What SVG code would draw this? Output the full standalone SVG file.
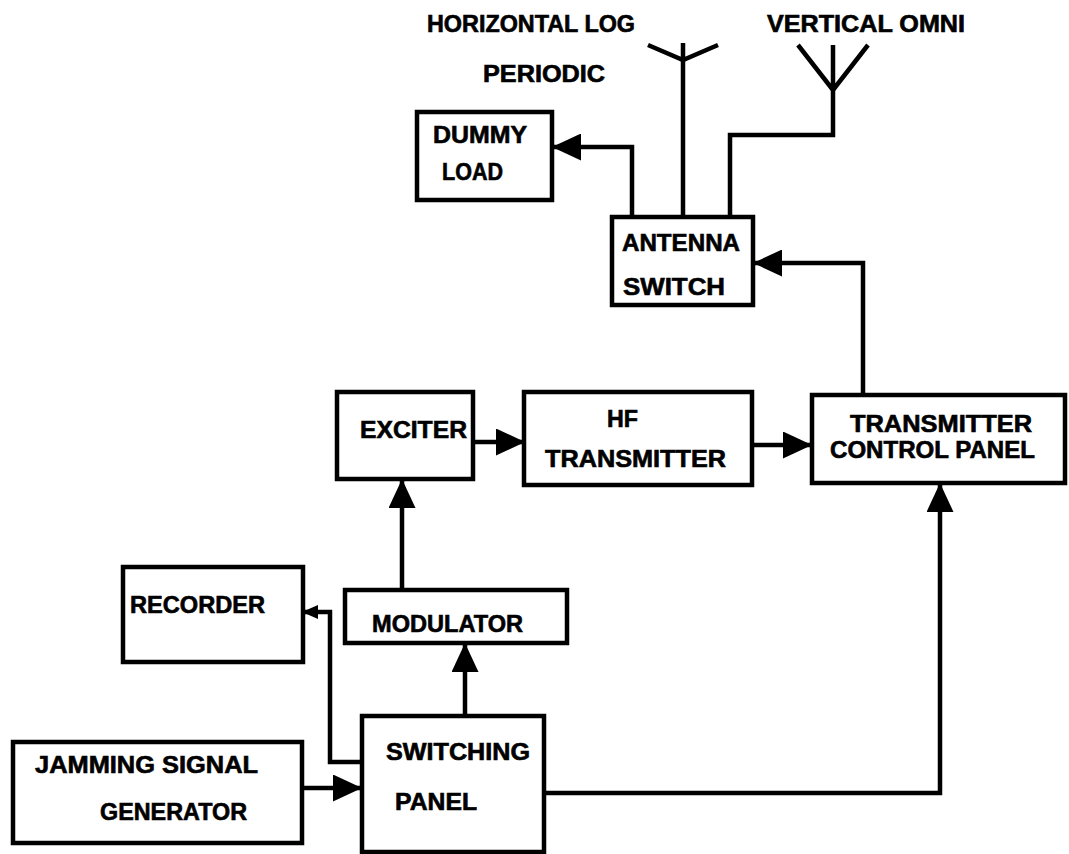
<svg xmlns="http://www.w3.org/2000/svg" width="1069" height="854" viewBox="0 0 1069 854">
<defs>
<style>
.box{fill:#fff;stroke:#000;stroke-width:4.5}
.ln{fill:none;stroke:#000;stroke-width:4.5;stroke-linejoin:miter}
.t{font-family:"Liberation Sans",Arial,sans-serif;font-weight:bold;font-size:23px;fill:#000;stroke:#000;stroke-width:0.6}
</style>
<marker id="ah" viewBox="0 0 29 27" refX="28" refY="13.5" markerWidth="29" markerHeight="27" markerUnits="userSpaceOnUse" orient="auto">
<path d="M0,0 L29,13.5 L0,27 Z" fill="#000"/>
</marker>
<marker id="ahs" viewBox="0 0 16 14" refX="15" refY="7" markerWidth="16" markerHeight="14" markerUnits="userSpaceOnUse" orient="auto">
<path d="M0,0 L16,7 L0,14 Z" fill="#000"/>
</marker>
</defs>
<rect width="1069" height="854" fill="#fff"/>
<g id="labels">
<text class="t" x="427" y="32" textLength="208" lengthAdjust="spacingAndGlyphs">HORIZONTAL LOG</text>
<text class="t" x="483" y="82" textLength="122" lengthAdjust="spacingAndGlyphs">PERIODIC</text>
<text class="t" x="767" y="32" textLength="198" lengthAdjust="spacingAndGlyphs">VERTICAL OMNI</text>
</g>
<g id="antennas">
<path class="ln" d="M683,43 V60 M648,45 L683,60 L718,45"/>
<path class="ln" d="M833,45 V90 M798,45 L833,90 L868,45"/>
</g>
<g id="connectors">
<path class="ln" d="M683,217 V60"/>
<path class="ln" d="M730,217 V135 H833 V90"/>
<path class="ln" d="M632,217 V147 H553" marker-end="url(#ah)"/>
<path class="ln" d="M863,395 V263 H754" marker-end="url(#ah)"/>
<path class="ln" d="M473,442 H524" marker-end="url(#ah)"/>
<path class="ln" d="M752,445 H811" marker-end="url(#ah)"/>
<path class="ln" d="M402,590 V480" marker-end="url(#ah)"/>
<path class="ln" d="M465,715 V644" marker-end="url(#ah)"/>
<path class="ln" d="M302,788 H361" marker-end="url(#ah)"/>
<path class="ln" d="M362,762 H330 V612 H303" marker-end="url(#ahs)"/>
<path class="ln" d="M544,793 H940 V484" marker-end="url(#ah)"/>
</g>
<g id="dummy-load">
<rect class="box" x="417" y="112" width="135" height="88"/>
<text class="t" x="433" y="143" textLength="94" lengthAdjust="spacingAndGlyphs">DUMMY</text>
<text class="t" x="442" y="180" textLength="61" lengthAdjust="spacingAndGlyphs">LOAD</text>
</g>
<g id="antenna-switch">
<rect class="box" x="612" y="217" width="141" height="88"/>
<text class="t" x="622" y="251" textLength="118" lengthAdjust="spacingAndGlyphs">ANTENNA</text>
<text class="t" x="623" y="295" textLength="102" lengthAdjust="spacingAndGlyphs">SWITCH</text>
</g>
<g id="exciter">
<rect class="box" x="337" y="392" width="136" height="87"/>
<text class="t" x="360" y="438" textLength="107" lengthAdjust="spacingAndGlyphs">EXCITER</text>
</g>
<g id="hf-transmitter">
<rect class="box" x="524" y="392" width="228" height="93"/>
<text class="t" x="607" y="427" textLength="31" lengthAdjust="spacingAndGlyphs">HF</text>
<text class="t" x="545" y="467" textLength="181" lengthAdjust="spacingAndGlyphs">TRANSMITTER</text>
</g>
<g id="transmitter-control-panel">
<rect class="box" x="812" y="395" width="253" height="88"/>
<text class="t" x="850" y="432" textLength="182" lengthAdjust="spacingAndGlyphs">TRANSMITTER</text>
<text class="t" x="830" y="458" textLength="205" lengthAdjust="spacingAndGlyphs">CONTROL PANEL</text>
</g>
<g id="recorder">
<rect class="box" x="123" y="567" width="180" height="95"/>
<text class="t" x="130" y="613" textLength="135" lengthAdjust="spacingAndGlyphs">RECORDER</text>
</g>
<g id="modulator">
<rect class="box" x="345" y="590" width="222" height="53"/>
<text class="t" x="372" y="632" textLength="151" lengthAdjust="spacingAndGlyphs">MODULATOR</text>
</g>
<g id="switching-panel">
<rect class="box" x="362" y="716" width="182" height="136"/>
<text class="t" x="386" y="760" textLength="144" lengthAdjust="spacingAndGlyphs">SWITCHING</text>
<text class="t" x="395" y="810" textLength="82" lengthAdjust="spacingAndGlyphs">PANEL</text>
</g>
<g id="jamming-signal-generator">
<rect class="box" x="13" y="742" width="289" height="101"/>
<text class="t" x="35" y="773" textLength="223" lengthAdjust="spacingAndGlyphs">JAMMING  SIGNAL</text>
<text class="t" x="100" y="820" textLength="147" lengthAdjust="spacingAndGlyphs">GENERATOR</text>
</g>
</svg>
